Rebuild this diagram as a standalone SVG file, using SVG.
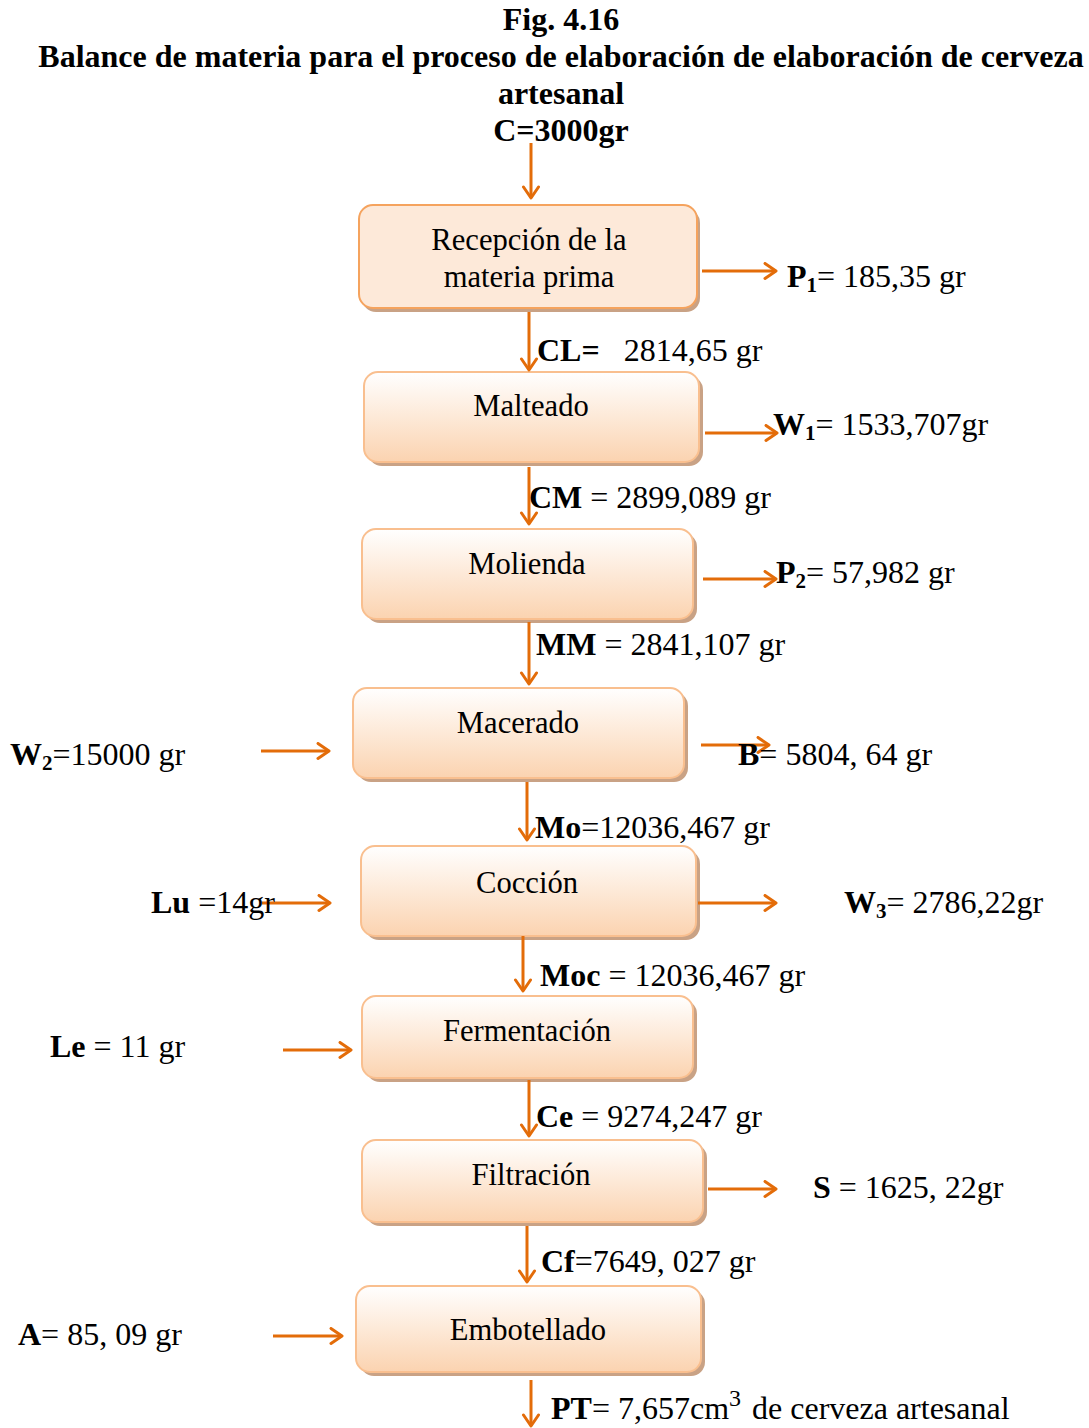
<svg xmlns="http://www.w3.org/2000/svg" width="1089" height="1428" viewBox="0 0 1089 1428">
<style>
text{font-family:"Liberation Serif","Times New Roman",serif;fill:#000}
.t{font-size:32px;font-weight:bold}
.n{font-size:30.6px;text-anchor:middle}
.l{font-size:32px}
.b{font-weight:bold}
.s{font-size:21px;font-weight:bold}
.a{stroke:#E36C09;stroke-width:3;fill:none;marker-end:url(#ah)}
.box{fill:url(#g);stroke:#F9BF8F;stroke-width:2}
.sh{fill:#C9A285}
</style>
<defs>
<linearGradient id="g" x1="0" y1="0" x2="0" y2="1">
<stop offset="0" stop-color="#FFFFFF"/>
<stop offset="1" stop-color="#FBD3B0"/>
</linearGradient>
<marker id="ah" markerUnits="userSpaceOnUse" markerWidth="20" markerHeight="20" refX="14" refY="9" orient="auto">
<path d="M3,1.5 L14,9 L3,16.5" fill="none" stroke="#E36C09" stroke-width="3" stroke-linecap="round" stroke-linejoin="round"/>
</marker>
</defs>
<g id="title">
<text class="t" x="561" y="30" text-anchor="middle">Fig. 4.16</text>
<text class="t" x="561" y="67" text-anchor="middle">Balance de materia para el proceso de elaboración de elaboración de cerveza</text>
<text class="t" x="561" y="104" text-anchor="middle">artesanal</text>
<text class="t" x="561" y="141" text-anchor="middle">C=3000gr</text>
</g>
<g id="n1">
<rect class="sh" x="362" y="209" width="338" height="103" rx="14"/>
<rect x="359" y="205" width="338" height="103" rx="14" fill="#FDE9D9" stroke="#F5A35E" stroke-width="2"/>
<text class="n" x="529" y="250">Recepción de la</text>
<text class="n" x="529" y="287">materia prima</text>
</g>
<g id="n2">
<rect class="sh" x="368" y="376" width="335" height="90" rx="14"/>
<rect class="box" x="364" y="372" width="335" height="90" rx="14"/>
<text class="n" x="531" y="416">Malteado</text>
</g>
<g id="n3">
<rect class="sh" x="366" y="533" width="331" height="90" rx="14"/>
<rect class="box" x="362" y="529" width="331" height="90" rx="14"/>
<text class="n" x="527" y="574">Molienda</text>
</g>
<g id="n4">
<rect class="sh" x="357" y="692" width="331" height="90" rx="14"/>
<rect class="box" x="353" y="688" width="331" height="90" rx="14"/>
<text class="n" x="518" y="733">Macerado</text>
</g>
<g id="n5">
<rect class="sh" x="365" y="850" width="335" height="90" rx="14"/>
<rect class="box" x="361" y="846" width="335" height="90" rx="14"/>
<text class="n" x="527" y="893">Cocción</text>
</g>
<g id="n6">
<rect class="sh" x="366" y="1000" width="331" height="82" rx="14"/>
<rect class="box" x="362" y="996" width="331" height="82" rx="14"/>
<text class="n" x="527" y="1041">Fermentación</text>
</g>
<g id="n7">
<rect class="sh" x="366" y="1144" width="341" height="82" rx="14"/>
<rect class="box" x="362" y="1140" width="341" height="82" rx="14"/>
<text class="n" x="531" y="1185">Filtración</text>
</g>
<g id="n8">
<rect class="sh" x="360" y="1290" width="345" height="86" rx="14"/>
<rect class="box" x="356" y="1286" width="345" height="86" rx="14"/>
<text class="n" x="528" y="1340">Embotellado</text>
</g>
<g id="connectors">
<line class="a" x1="531" y1="143" x2="531" y2="198"/>
<line class="a" x1="529" y1="312" x2="529" y2="370"/>
<line class="a" x1="529" y1="467" x2="529" y2="524"/>
<line class="a" x1="529" y1="622" x2="529" y2="684"/>
<line class="a" x1="527" y1="782" x2="527" y2="840"/>
<line class="a" x1="523" y1="936" x2="523" y2="991"/>
<line class="a" x1="529" y1="1080" x2="529" y2="1136"/>
<line class="a" x1="527" y1="1226" x2="527" y2="1282"/>
<line class="a" x1="531" y1="1380" x2="531" y2="1426"/>
<line class="a" x1="702" y1="271" x2="776" y2="271"/>
<line class="a" x1="705" y1="433" x2="777" y2="433"/>
<line class="a" x1="703" y1="579" x2="776" y2="579"/>
<line class="a" x1="701" y1="745" x2="769" y2="745"/>
<line class="a" x1="261" y1="751" x2="329" y2="751"/>
<line class="a" x1="262" y1="903" x2="330" y2="903"/>
<line class="a" x1="698" y1="903" x2="776" y2="903"/>
<line class="a" x1="283" y1="1050" x2="351" y2="1050"/>
<line class="a" x1="708" y1="1189" x2="776" y2="1189"/>
<line class="a" x1="273" y1="1336" x2="342" y2="1336"/>
</g>
<g id="labels">
<text class="l" x="787" y="287"><tspan class="b">P</tspan><tspan class="s" dy="5">1</tspan><tspan dy="-5">= 185,35 gr</tspan></text>
<text class="l" x="537" y="361" xml:space="preserve"><tspan class="b">CL=</tspan>   2814,65 gr</text>
<text class="l" x="773" y="435"><tspan class="b">W</tspan><tspan class="s" dy="5">1</tspan><tspan dy="-5">= 1533,707gr</tspan></text>
<text class="l" x="529" y="508"><tspan class="b">CM</tspan> = 2899,089 gr</text>
<text class="l" x="776" y="583"><tspan class="b">P</tspan><tspan class="s" dy="5">2</tspan><tspan dy="-5">= 57,982 gr</tspan></text>
<text class="l" x="536" y="655"><tspan class="b">MM</tspan> = 2841,107 gr</text>
<text class="l" x="738" y="765"><tspan class="b">B</tspan>= 5804, 64 gr</text>
<text class="l" x="10" y="765"><tspan class="b">W</tspan><tspan class="s" dy="5">2</tspan><tspan dy="-5">=15000 gr</tspan></text>
<text class="l" x="535" y="838"><tspan class="b">Mo</tspan>=12036,467 gr</text>
<text class="l" x="151" y="913"><tspan class="b">Lu</tspan> =14gr</text>
<text class="l" x="844" y="913"><tspan class="b">W</tspan><tspan class="s" dy="5">3</tspan><tspan dy="-5">= 2786,22gr</tspan></text>
<text class="l" x="540" y="986"><tspan class="b">Moc</tspan> = 12036,467 gr</text>
<text class="l" x="50" y="1057"><tspan class="b">Le</tspan> = 11 gr</text>
<text class="l" x="536" y="1127"><tspan class="b">Ce</tspan> = 9274,247 gr</text>
<text class="l" x="813" y="1198"><tspan class="b">S</tspan> = 1625, 22gr</text>
<text class="l" x="541" y="1272"><tspan class="b">Cf</tspan>=7649, 027 gr</text>
<text class="l" x="18" y="1345"><tspan class="b">A</tspan>= 85, 09 gr</text>
<text class="l" x="551" y="1419"><tspan class="b">PT</tspan>= 7,657cm<tspan font-size="24" dy="-13">3</tspan><tspan dy="13" dx="3"> de cerveza artesanal</tspan></text>
</g>
</svg>
